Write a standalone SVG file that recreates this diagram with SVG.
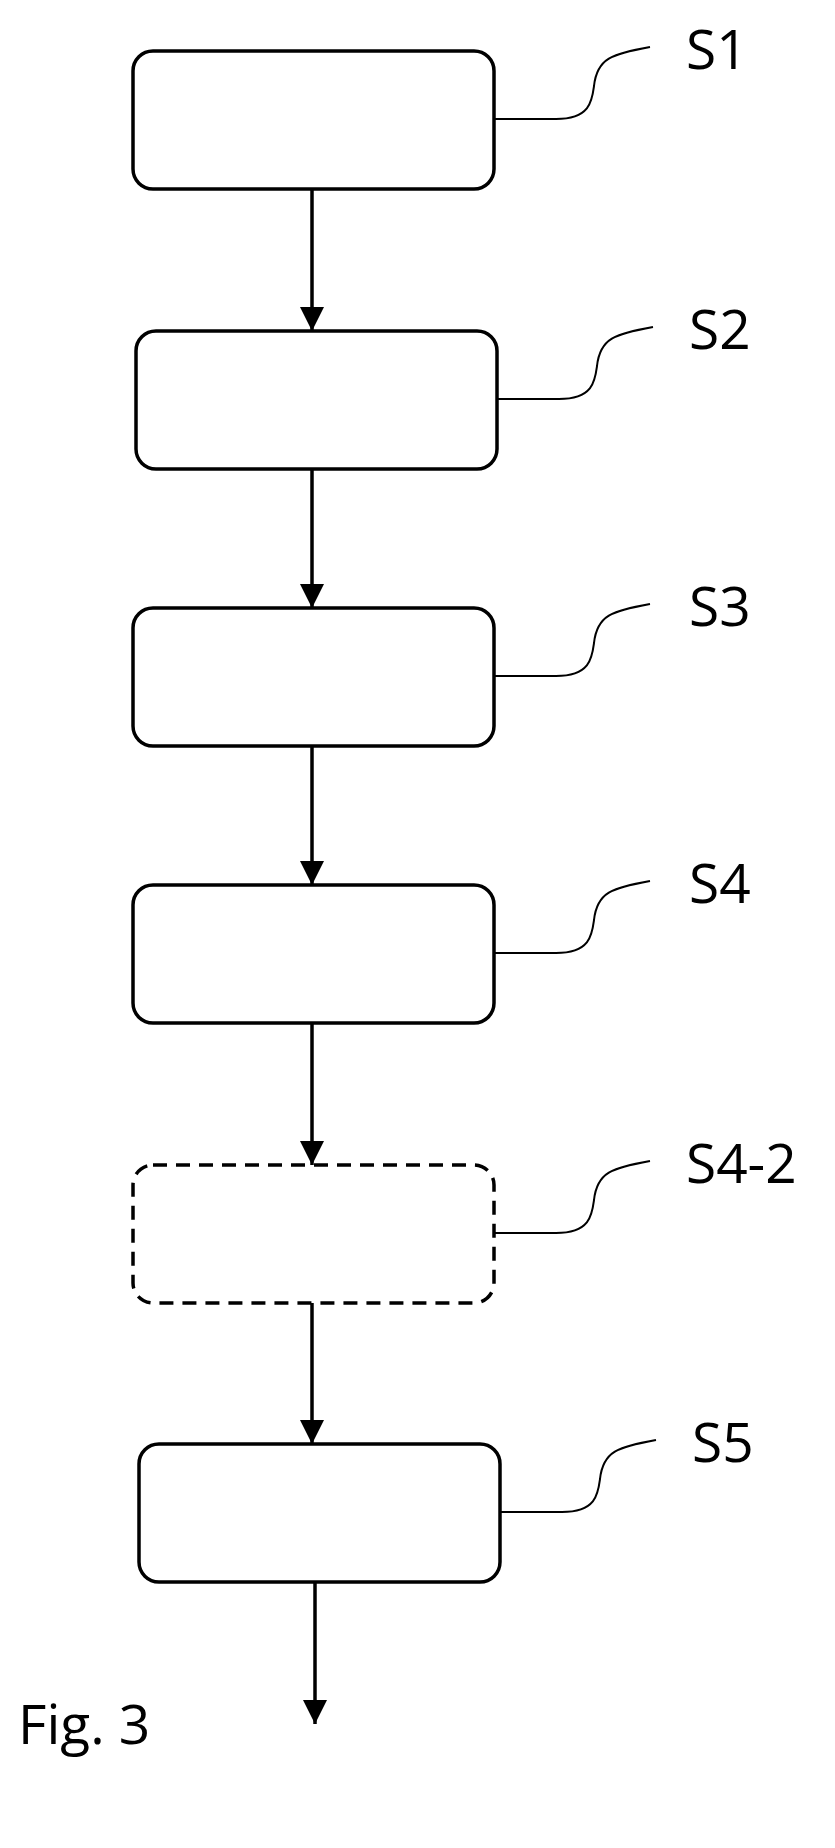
<svg xmlns="http://www.w3.org/2000/svg" width="835" height="1848" viewBox="0 0 835 1848">
<defs>
<style>
.box{fill:#fff;stroke:#000;stroke-width:3.5}
.dash{stroke-dasharray:14 9}
.lead{fill:none;stroke:#000;stroke-width:2}
.conn{stroke:#000;stroke-width:3.5;fill:none}
text{font-family:"Open Sans","Noto Sans",sans-serif;font-size:55px;fill:#000}
</style>
<marker id="a" viewBox="0 0 10 10" refX="10" refY="5" markerWidth="24" markerHeight="24" markerUnits="userSpaceOnUse" orient="auto"><path d="M0 0L10 5L0 10z"/></marker>
</defs>
<g id="connectors">
<line class="conn" x1="312" y1="189" x2="312" y2="331" marker-end="url(#a)"/>
<line class="conn" x1="312" y1="469" x2="312" y2="608" marker-end="url(#a)"/>
<line class="conn" x1="312" y1="746" x2="312" y2="885" marker-end="url(#a)"/>
<line class="conn" x1="312" y1="1023" x2="312" y2="1165" marker-end="url(#a)"/>
<line class="conn" x1="312" y1="1303" x2="312" y2="1444" marker-end="url(#a)"/>
<line class="conn" x1="315" y1="1582" x2="315" y2="1724" marker-end="url(#a)"/>
</g>
<g id="S1"><rect class="box" x="133" y="51" width="361" height="138" rx="20"/><path class="lead" d="M494 119H556C590 119 592 101 594 86C597 58 612 54 650 47"/><text x="686" y="69">S1</text></g>
<g id="S2"><rect class="box" x="136" y="331" width="361" height="138" rx="20"/><path class="lead" d="M497 399H559C593 399 595 381 597 366C600 338 615 334 653 327"/><text x="689" y="349">S2</text></g>
<g id="S3"><rect class="box" x="133" y="608" width="361" height="138" rx="20"/><path class="lead" d="M494 676H556C590 676 592 658 594 643C597 615 612 611 650 604"/><text x="689" y="626">S3</text></g>
<g id="S4"><rect class="box" x="133" y="885" width="361" height="138" rx="20"/><path class="lead" d="M494 953H556C590 953 592 935 594 920C597 892 612 888 650 881"/><text x="689" y="903">S4</text></g>
<g id="S4-2"><rect class="box dash" x="133" y="1165" width="361" height="138" rx="20"/><path class="lead" d="M494 1233H556C590 1233 592 1215 594 1200C597 1172 612 1168 650 1161"/><text x="686" y="1183">S4-2</text></g>
<g id="S5"><rect class="box" x="139" y="1444" width="361" height="138" rx="20"/><path class="lead" d="M500 1512H562C596 1512 598 1494 600 1479C603 1451 618 1447 656 1440"/><text x="692" y="1462">S5</text></g>
<text x="18" y="1744">Fig. 3</text>
</svg>
